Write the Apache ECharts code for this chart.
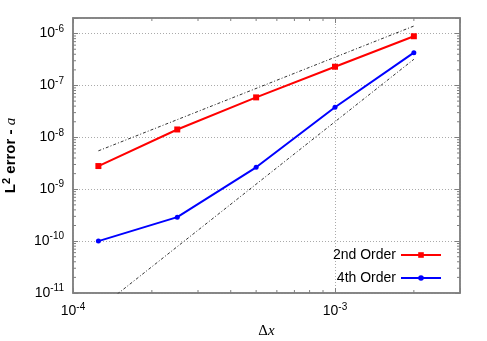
<!DOCTYPE html>
<html>
<head>
<meta charset="utf-8">
<script src="https://cdn.jsdelivr.net/npm/echarts@6/dist/echarts.min.js"></script>
<style>
  html, body { margin: 0; padding: 0; background: #fff; }
  #chart { width: 487px; height: 341px; }
</style>
</head>
<body>
<div id="chart"></div>
<script>
// grid spacing dx
var dx = [1.25e-4, 2.5e-4, 5e-4, 1e-3, 2e-3];
// L2 error of a
var err2nd = [2.8e-9, 1.42e-8, 5.9e-8, 2.3e-7, 8.9e-7];
var err4th = [1.0e-10, 2.9e-10, 2.65e-9, 3.8e-8, 4.3e-7];
// reference slopes (dash-dot), end points only
var refX = [1.25e-4, 2e-3];
var slope2 = [5.5e-9, 1.4e-6];
var slope4 = [4.9e-12, 3.2e-7];
// minor tick positions on the log axes
var mant = [2, 3, 4, 5, 6, 7, 8, 9];
var xDecades = [1e-4, 1e-3];
var yDecades = [1e-11, 1e-10, 1e-9, 1e-8, 1e-7, 1e-6];

var xMin = 1e-4, xMax = 3e-3, yMin = 1e-11, yMax = 2e-6;

var xMinor = [], yMinor = [];
xDecades.forEach(function (d) {
  mant.forEach(function (m) { var v = m * d; if (v < xMax * 0.999) xMinor.push([v, 1e-9]); });
});
yDecades.forEach(function (d) {
  mant.forEach(function (m) { var v = m * d; if (v < yMax * 0.999) yMinor.push([1e-3, v]); });
});

function pow10Label(v) {
  var e = Math.log10(v);
  if (Math.abs(e - Math.round(e)) > 1e-6) return '';
  return '{b|10}{s|' + Math.round(e) + '}';
}

var labelRich = {
  b: { fontSize: 14, fontFamily: 'Liberation Sans', color: '#000' },
  s: { fontSize: 10, fontFamily: 'Liberation Sans', color: '#000', padding: [0, 0, 9, 0] }
};

var frame = '#7f7f7f';
var gridLine = { show: true, lineStyle: { color: '#aaa', type: [1, 2], width: 1 } };

function axisBase(extra) {
  var a = {
    type: 'log',
    logBase: 10,
    axisLine: { show: true, lineStyle: { color: frame, width: 1.5 } },
    axisTick: { show: true, inside: true, length: 5, lineStyle: { color: frame, width: 1 } },
    splitLine: { show: false },
    axisLabel: { show: false }
  };
  for (var k in extra) a[k] = extra[k];
  return a;
}

var myChart = echarts.init(document.getElementById('chart'));

function minorTicks(isX) {
  return function (params, api) {
    var cs = params.coordSys;
    var p = api.coord([api.value(0), api.value(1)]);
    var len = 3;
    var s = { stroke: frame, lineWidth: 1 };
    if (isX) {
      return { type: 'group', children: [
        { type: 'line', shape: { x1: p[0], y1: cs.y + cs.height, x2: p[0], y2: cs.y + cs.height - len }, style: s },
        { type: 'line', shape: { x1: p[0], y1: cs.y, x2: p[0], y2: cs.y + len }, style: s }
      ] };
    }
    return { type: 'group', children: [
      { type: 'line', shape: { x1: cs.x, y1: p[1], x2: cs.x + len, y2: p[1] }, style: s },
      { type: 'line', shape: { x1: cs.x + cs.width, y1: p[1], x2: cs.x + cs.width - len, y2: p[1] }, style: s }
    ] };
  };
}

var refStyle = { color: '#333', width: 1, type: [3, 2, 1, 2] };

var option = {
  animation: false,
  backgroundColor: '#fff',
  grid: {
    left: 73, top: 18, right: 27, bottom: 48,
    containLabel: false, outerBoundsMode: 'none',
    show: true, borderColor: frame, borderWidth: 1.5
  },
  legend: {
    orient: 'vertical',
    right: 40,
    bottom: 51,
    align: 'right',
    itemWidth: 40,
    itemHeight: 7,
    itemGap: 9,
    textStyle: { fontSize: 14, fontFamily: 'Liberation Sans', color: '#000' },
    data: [
      { name: '2nd Order' },
      { name: '4th Order' }
    ]
  },
  xAxis: [
    axisBase({
      min: xMin, max: xMax,
      name: '{g|Δ}{i|x}',
      nameLocation: 'middle',
      nameGap: 30,
      nameTextStyle: { rich: {
        g: { fontSize: 15, fontFamily: 'Liberation Serif', color: '#000' },
        i: { fontSize: 15, fontFamily: 'Liberation Serif', fontStyle: 'italic', color: '#000' }
      } },
      splitLine: gridLine,
      axisLabel: { show: true, margin: 9, formatter: pow10Label, rich: labelRich }
    }),
    axisBase({ min: xMin, max: xMax, position: 'top' })
  ],
  yAxis: [
    axisBase({
      min: yMin, max: yMax,
      name: '{b|L}{s|2}{b| error - }{i|a}',
      nameLocation: 'middle',
      nameRotate: 90,
      nameGap: 52,
      nameTextStyle: { rich: {
        b: { fontSize: 15, fontWeight: 'bold', fontFamily: 'Liberation Sans', color: '#000' },
        s: { fontSize: 11, fontWeight: 'bold', fontFamily: 'Liberation Sans', color: '#000', padding: [0, 0, 9, 0] },
        i: { fontSize: 15, fontFamily: 'Liberation Serif', fontStyle: 'italic', color: '#000' }
      } },
      splitLine: gridLine,
      axisLabel: { show: true, margin: 9, formatter: pow10Label, rich: labelRich }
    }),
    axisBase({ min: yMin, max: yMax, position: 'right' })
  ],
  series: [
    {
      type: 'custom', silent: true, renderItem: minorTicks(true), data: xMinor, clip: false, z: 1
    },
    {
      type: 'custom', silent: true, renderItem: minorTicks(false), data: yMinor, clip: false, z: 1
    },
    {
      type: 'line', silent: true, clip: true, showSymbol: false, symbol: 'none',
      data: refX.map(function (x, i) { return [x, slope2[i]]; }),
      lineStyle: refStyle, z: 2
    },
    {
      type: 'line', silent: true, clip: true, showSymbol: false, symbol: 'none',
      data: refX.map(function (x, i) { return [x, slope4[i]]; }),
      lineStyle: refStyle, z: 2
    },
    {
      name: '2nd Order',
      type: 'line',
      data: dx.map(function (x, i) { return [x, err2nd[i]]; }),
      symbol: 'rect', symbolSize: 6,
      color: '#ff0000',
      itemStyle: { color: '#ff0000' },
      lineStyle: { color: '#ff0000', width: 2 },
      z: 3
    },
    {
      name: '4th Order',
      type: 'line',
      data: dx.map(function (x, i) { return [x, err4th[i]]; }),
      symbol: 'circle', symbolSize: 5,
      color: '#0000ff',
      itemStyle: { color: '#0000ff' },
      lineStyle: { color: '#0000ff', width: 2 },
      z: 3
    }
  ]
};

myChart.setOption(option);
</script>
</body>
</html>
